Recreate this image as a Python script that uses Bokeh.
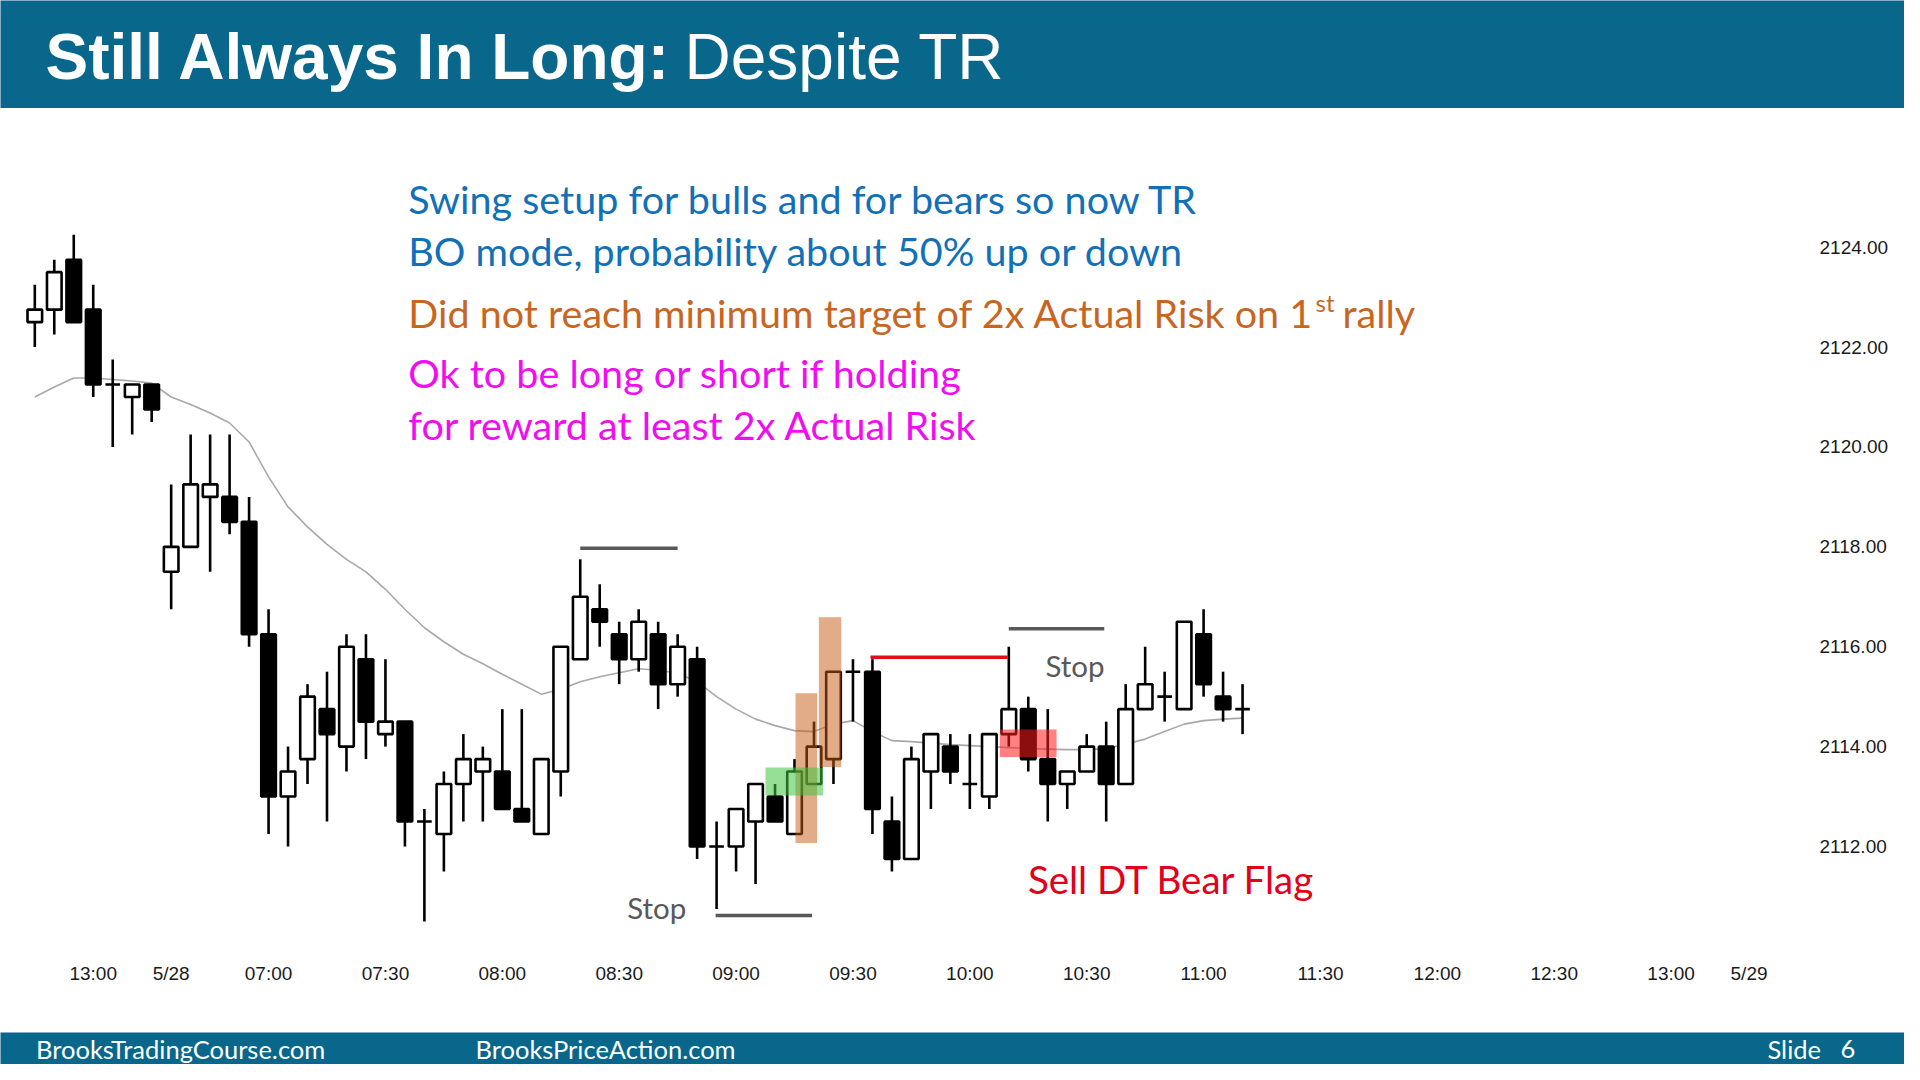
from bokeh.plotting import figure
from bokeh.models import Range1d, FixedTicker, Label, NumeralTickFormatter, Plot
from bokeh.layouts import column
from bokeh.embed import file_html
from bokeh.resources import INLINE

# ---------------- data (5-minute bars) ----------------
bar_index = list(range(63))
opens = [2122.5, 2122.75, 2123.75, 2122.75, 2121.25, 2121.0, 2121.25,
         2117.5, 2118.0, 2119.0, 2119.0, 2118.5, 2116.25, 2113.0, 2113.75, 2114.75,
         2114.0, 2115.75, 2114.25, 2114.5, 2112.5, 2112.25, 2113.25, 2113.5, 2113.5,
         2112.75, 2112.25, 2113.5, 2115.75, 2116.75, 2116.25, 2115.75, 2116.25, 2115.25,
         2115.75, 2112.0, 2112.0, 2112.5, 2113.0, 2112.25, 2113.25, 2113.75, 2115.5,
         2115.5, 2112.5, 2111.75, 2113.5, 2114.0, 2113.25, 2113.0, 2114.25, 2114.75,
         2113.75, 2113.25, 2113.5, 2114.0, 2113.25, 2114.75, 2115.0, 2114.75, 2116.25,
         2115.0, 2114.75]
highs = [2123.25, 2123.75, 2124.25, 2123.25, 2121.75, 2121.25, 2121.25,
         2119.25, 2120.25, 2120.25, 2120.25, 2119.0, 2116.75, 2114.0, 2115.25, 2115.5,
         2116.25, 2116.25, 2115.75, 2114.5, 2112.75, 2113.5, 2114.25, 2114.0, 2114.75,
         2114.75, 2113.75, 2116.0, 2117.75, 2117.25, 2116.5, 2116.75, 2116.5, 2116.25,
         2116.0, 2112.5, 2112.75, 2113.25, 2113.25, 2113.75, 2114.5, 2115.5, 2115.75,
         2115.75, 2113.0, 2114.0, 2114.25, 2114.25, 2114.25, 2114.25, 2116.0, 2115.0,
         2114.75, 2113.5, 2114.25, 2114.5, 2115.25, 2116.0, 2115.5, 2116.5, 2116.75,
         2115.5, 2115.25]
lows = [2122.0, 2122.25, 2122.5, 2121.0, 2120.0, 2120.25, 2120.5,
        2116.75, 2118.0, 2117.5, 2118.25, 2116.0, 2112.25, 2112.0, 2113.25, 2112.5,
        2113.5, 2113.75, 2114.0, 2112.0, 2110.5, 2111.5, 2112.5, 2112.5, 2112.75,
        2112.5, 2112.25, 2113.0, 2115.75, 2116.0, 2115.25, 2115.5, 2114.75, 2115.0,
        2111.75, 2110.75, 2111.5, 2111.25, 2112.5, 2112.25, 2113.25, 2113.25, 2114.5,
        2112.25, 2111.5, 2111.75, 2112.75, 2113.25, 2112.75, 2112.75, 2114.0, 2113.5,
        2112.5, 2112.75, 2113.5, 2112.5, 2113.25, 2114.75, 2114.5, 2114.75, 2115.0,
        2114.5, 2114.25]
closes = [2122.75, 2123.5, 2122.5, 2121.25, 2121.25, 2121.25, 2120.75,
          2118.0, 2119.25, 2119.25, 2118.5, 2116.25, 2113.0, 2113.5, 2115.0, 2114.25,
          2116.0, 2114.5, 2114.5, 2112.5, 2112.5, 2113.25, 2113.75, 2113.75, 2112.75,
          2112.5, 2113.75, 2116.0, 2117.0, 2116.5, 2115.75, 2116.5, 2115.25, 2116.0,
          2112.0, 2112.0, 2112.75, 2113.25, 2112.5, 2113.5, 2114.0, 2115.5, 2115.5,
          2112.75, 2111.75, 2113.75, 2114.25, 2113.5, 2113.25, 2114.25, 2114.75, 2113.75,
          2113.25, 2113.5, 2114.0, 2113.25, 2114.75, 2115.25, 2115.0, 2116.5, 2115.25,
          2114.75, 2114.75]
ema20 = [2121.0, 2121.2, 2121.38, 2121.38, 2121.35, 2121.32, 2121.28,
         2121.0, 2120.85, 2120.68, 2120.48, 2120.1, 2119.4, 2118.8, 2118.4, 2118.05,
         2117.75, 2117.5, 2117.15, 2116.75, 2116.38, 2116.1, 2115.85, 2115.66, 2115.45,
         2115.25, 2115.05, 2115.15, 2115.3, 2115.4, 2115.48, 2115.56, 2115.53, 2115.47,
         2115.3, 2115.0, 2114.75, 2114.55, 2114.42, 2114.32, 2114.3, 2114.45, 2114.52,
         2114.3, 2114.12, 2114.1, 2114.07, 2114.04, 2114.02, 2114.0, 2113.98, 2113.96,
         2113.95, 2113.94, 2113.94, 2113.96, 2114.05, 2114.15, 2114.3, 2114.45, 2114.52,
         2114.55, 2114.57]

tick_positions = [3, 7, 12, 18, 24, 30, 36, 42, 48, 54, 60, 66, 72, 78, 84, 88]
tick_labels = ["13:00", "5/28", "07:00", "07:30", "08:00", "08:30", "09:00", "09:30",
               "10:00", "10:30", "11:00", "11:30", "12:00", "12:30", "13:00", "5/29"]
price_ticks = [2112, 2114, 2116, 2118, 2120, 2122, 2124]

# stop lines (gray) and signal-bar high (red): bar from, bar to, price
stop_x0 = [28.0, 34.95, 50.0]
stop_x1 = [33.0, 39.9, 54.9]
stop_price = [2117.97, 2110.62, 2116.36]
red_x0, red_x1, red_price = [42.9], [49.95], [2115.79]

# highlighted zones: left bar, right bar, bottom price, top price
zone_left = [39.05, 40.25, 37.51, 49.54]
zone_right = [40.16, 41.40, 40.47, 52.45]
zone_bottom = [2112.07, 2113.59, 2113.02, 2113.79]
zone_top = [2115.07, 2116.59, 2113.58, 2114.34]
zone_color = ["#c55a11", "#c55a11", "#3fc43f", "#ff1a1a"]
zone_alpha = [0.5, 0.5, 0.55, 0.55]

# ---------------- geometry helpers (page pixel -> data) ----------------
W = 1904
FRAME_W = 1792
BAND = "#08678a"
X0_PX, BAR_PX = 34.3, 19.48
Y_REF_PX, Y_REF_P, PX_PER_PT = 246.7, 2124.0, 49.94
CHART_TOP, FRAME_BOTTOM, FOOT_TOP, PAGE_H = 108, 950, 1032, 1064

HAS_FRAME_ALIGN = "frame_align" in Plot.properties()
BAND_FRAME_W = W if HAS_FRAME_ALIGN else FRAME_W


def kx(px):
    return (px - X0_PX) / BAR_PX


def py(px):
    return Y_REF_P - (px - Y_REF_PX) / PX_PER_PT


def band_fig(height):
    f = figure(width=W, height=height, x_range=Range1d(0, BAND_FRAME_W), y_range=Range1d(0, height),
               x_axis_location=None, y_axis_location=None, toolbar_location=None,
               min_border_left=0, min_border_top=0, min_border_bottom=0,
               min_border_right=W - BAND_FRAME_W,
               background_fill_color=BAND, border_fill_color=BAND,
               outline_line_color=None, output_backend="svg")
    f.grid.grid_line_color = None
    if HAS_FRAME_ALIGN:
        f.frame_align = False
    return f


# ---------------- header ----------------
head_h = CHART_TOP
head = band_fig(head_h)
head.add_layout(Label(x=45, y=head_h - 56, text="Still Always In Long:", text_font="Liberation Sans",
                      text_font_style="bold", text_font_size="64px", text_color="white",
                      text_baseline="middle"))
head.add_layout(Label(x=684, y=head_h - 56, text="Despite TR", text_font="Liberation Sans",
                      text_font_size="64px", text_color="white", text_baseline="middle"))

# ---------------- chart ----------------
p = figure(width=W, height=FOOT_TOP - CHART_TOP, x_range=Range1d(kx(0), kx(FRAME_W)),
           y_range=Range1d(py(FRAME_BOTTOM), py(CHART_TOP)), y_axis_location="right",
           toolbar_location=None, min_border_left=0, min_border_top=0,
           min_border_right=W - FRAME_W, min_border_bottom=FOOT_TOP - FRAME_BOTTOM,
           outline_line_color=None, background_fill_color="white", border_fill_color="white",
           output_backend="svg")
p.grid.grid_line_color = None
if HAS_FRAME_ALIGN:
    p.frame_align = False

for ax in (p.xaxis[0], p.yaxis[0]):
    ax.axis_line_color = None
    ax.major_tick_line_color = None
    ax.minor_tick_line_color = None
    ax.major_tick_out = 0
    ax.major_tick_in = 0
    ax.major_label_text_font = "Liberation Sans"
    ax.major_label_text_font_size = "19px"
    ax.major_label_text_color = "#1a1a1a"

p.xaxis.ticker = FixedTicker(ticks=tick_positions)
p.xaxis.major_label_overrides = {t: s for t, s in zip(tick_positions, tick_labels)}
p.xaxis.major_label_standoff = 12
p.yaxis.ticker = FixedTicker(ticks=price_ticks)
p.yaxis.formatter = NumeralTickFormatter(format="0.00")
p.yaxis.major_label_standoff = 27

body_top = [max(o, c) for o, c in zip(opens, closes)]
body_bot = [min(o, c) for o, c in zip(opens, closes)]
body_fill = ["black" if c < o else "white" for o, c in zip(opens, closes)]

p.line(bar_index, ema20, line_color="#a8a8a8", line_width=1.6)
p.segment(x0=bar_index, y0=lows, x1=bar_index, y1=highs, line_color="black", line_width=2.6)
p.vbar(x=bar_index, width=0.75, top=body_top, bottom=body_bot, fill_color=body_fill,
       line_color="black", line_width=2.6)

p.quad(left=zone_left, right=zone_right, bottom=zone_bottom, top=zone_top,
       fill_color=zone_color, fill_alpha=zone_alpha, line_color=None)

p.segment(x0=stop_x0, y0=stop_price, x1=stop_x1, y1=stop_price, line_color="#595959", line_width=3.5)
p.segment(x0=red_x0, y0=red_price, x1=red_x1, y1=red_price, line_color="#e0101a", line_width=3.5)

BLUE, ORANGE, MAGENTA = "#1170b8", "#c8661f", "#f20cf0"


def note(x_px, y_px, text, color, size):
    p.add_layout(Label(x=kx(x_px), y=py(y_px), text=text, text_color=color,
                       text_font="Lato", text_font_size=size, text_baseline="middle"))


note(407.8, 198.0, "Swing setup for bulls and for bears so now TR", BLUE, "39.5px")
note(407.8, 249.6, "BO mode, probability about 50% up or down", BLUE, "39.5px")
note(407.8, 312.0, "Did not reach minimum target of 2x Actual Risk on 1", ORANGE, "39.5px")
note(1315, 302.0, "st", ORANGE, "24px")
note(1342, 312.0, "rally", ORANGE, "39.5px")
note(407.8, 372.0, "Ok to be long or short if holding", MAGENTA, "39.5px")
note(407.8, 423.5, "for reward at least 2x Actual Risk", MAGENTA, "39.5px")
note(626.7, 906.5, "Stop", "#595959", "29.5px")
note(1045.0, 664.7, "Stop", "#595959", "29.5px")
note(1027.4, 878.5, "Sell DT Bear Flag", "#e2001a", "38.5px")

# ---------------- footer ----------------
foot_h = PAGE_H - FOOT_TOP
foot = band_fig(foot_h)
slide_x = 1767 if HAS_FRAME_ALIGN else 1690
footer_items = [(35.5, "BrooksTradingCourse.com"), (475, "BrooksPriceAction.com"),
                (slide_x, "Slide"), (slide_x + 73, "6")]
for fx, ftxt in footer_items:
    foot.add_layout(Label(x=fx, y=foot_h - 16.5, text=ftxt, text_font="Lato", text_font_size="25.5px",
                          text_color="white", text_baseline="middle"))

layout = column(head, p, foot, spacing=0)
open("out.html", "w").write(file_html(layout, INLINE))
